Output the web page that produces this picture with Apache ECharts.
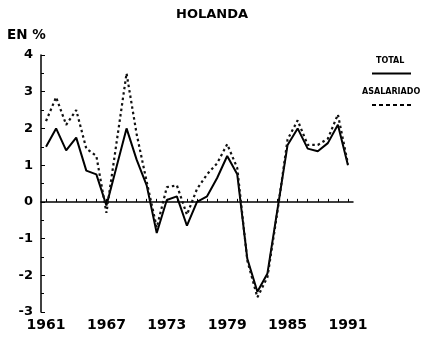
<!DOCTYPE html>
<html>
<head>
<meta charset="utf-8">
<script src="https://cdn.jsdelivr.net/npm/echarts@6/dist/echarts.min.js"></script>
<style>
  html, body { margin: 0; padding: 0; background: #fff; }
  #chart { width: 424px; height: 339px; }
</style>
</head>
<body>
<div id="chart"></div>
<script>
// Annual growth, Netherlands (per cent)
var years = [];
for (var y = 1961; y <= 1991; y++) years.push(String(y));

var total = [1.5, 2.0, 1.4, 1.75, 0.85, 0.75, -0.1, 0.95, 2.0, 1.15,
             0.45, -0.85, 0.05, 0.15, -0.65, 0.0, 0.15, 0.65, 1.25, 0.75,
             -1.55, -2.45, -1.95, -0.2, 1.55, 2.0, 1.45, 1.38, 1.6, 2.1, 1.0];

var asalariado = [2.2, 2.85, 2.1, 2.5, 1.45, 1.25, -0.3, 1.6, 3.5, 1.85,
                  0.55, -0.7, 0.4, 0.45, -0.35, 0.35, 0.75, 1.05, 1.57, 0.92,
                  -1.6, -2.6, -2.05, -0.25, 1.7, 2.22, 1.55, 1.55, 1.72, 2.38, 1.03];

var yTicks = [-3, -2, -1, 0, 1, 2, 3, 4];

var chart = echarts.init(document.getElementById('chart'), null, { renderer: 'canvas' });

var heavy = 'DejaVu Sans';

chart.setOption({
  backgroundColor: '#fff',
  animation: false,
  title: {
    text: 'HOLANDA',
    left: 'center',
    top: 3,
    textStyle: { fontFamily: heavy, fontWeight: 'bold', fontSize: 13, color: '#000' }
  },
  grid: { left: 41, right: 71, top: 55, bottom: 27, containLabel: false },
  xAxis: {
    type: 'category',
    data: years,
    boundaryGap: true,
    axisLine: { lineStyle: { color: '#000', width: 1.5 } },
    axisTick: { show: true, inside: true, length: 3, interval: 0, alignWithLabel: true,
                lineStyle: { color: '#000', width: 1 } },
    axisLabel: { interval: 5, margin: 6, color: '#000', fontFamily: heavy,
                 fontWeight: 'bold', fontSize: 14 },
    splitLine: { show: false }
  },
  yAxis: {
    type: 'value',
    min: yTicks[0],
    max: yTicks[yTicks.length - 1],
    interval: 1,
    axisLine: { show: true, lineStyle: { color: '#000', width: 1.5 } },
    axisTick: { show: true, inside: true, length: 4, lineStyle: { color: '#000', width: 1 } },
    minorTick: { show: true, splitNumber: 2, length: 3, lineStyle: { color: '#000', width: 1 } },
    axisLabel: { margin: 8, color: '#000', fontFamily: heavy, fontWeight: 'bold', fontSize: 13 },
    splitLine: { show: false }
  },
  graphic: [
    { type: 'text', left: 7, top: 28,
      style: { text: 'EN %', font: 'bold 13.5px "DejaVu Sans"', fill: '#000' } },
    { type: 'text', left: 376, top: 57,
      style: { text: 'TOTAL', font: 'bold 8px "DejaVu Sans"', fill: '#000' } },
    { type: 'line', shape: { x1: 372, y1: 73.5, x2: 411, y2: 73.5 },
      style: { stroke: '#000', lineWidth: 2 } },
    { type: 'text', left: 362, top: 88,
      style: { text: 'ASALARIADO', font: 'bold 8px "DejaVu Sans"', fill: '#000' } },
    { type: 'line', shape: { x1: 372, y1: 105, x2: 411, y2: 105 },
      style: { stroke: '#000', lineWidth: 2, lineDash: [4, 3] } }
  ],
  series: [
    {
      name: 'TOTAL',
      type: 'line',
      data: total,
      symbol: 'none',
      lineStyle: { color: '#000', width: 2 }
    },
    {
      name: 'ASALARIADO',
      type: 'line',
      data: asalariado,
      symbol: 'none',
      lineStyle: { color: '#111', width: 2.2, type: [2.5, 3] }
    }
  ]
});
</script>
</body>
</html>
